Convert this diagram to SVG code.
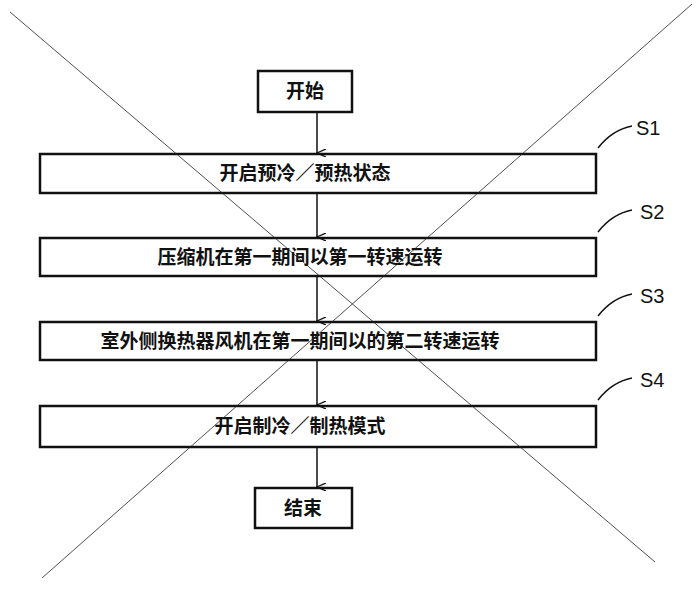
<svg xmlns="http://www.w3.org/2000/svg" width="700" height="600" viewBox="0 0 700 600">
<style>
.box{fill:#fff;stroke:#111;stroke-width:2.5}
.t{font-family:"Noto Sans CJK SC",sans-serif;font-size:19px;font-weight:bold;fill:#111;text-anchor:middle}
.s{font-family:"Liberation Sans",sans-serif;font-size:20px;fill:#111}
.c{stroke:#111;stroke-width:1.5;fill:none}
</style>
<defs><marker id="a" markerWidth="8" markerHeight="10" refX="4" refY="9" orient="auto" markerUnits="userSpaceOnUse"><path d="M0,0 L4,9 L8,0" fill="none" stroke="#111" stroke-width="1.3"/></marker></defs>
<rect width="700" height="600" fill="#fff"/>
<g id="start"><rect class="box" x="258" y="71" width="94" height="41"/><text class="t" x="305" y="98">开始</text></g>
<g id="s1"><rect class="box" x="40" y="154" width="556" height="39"/><text class="t" x="305" y="180">开启预冷／预热状态</text><path class="c" d="M598,148 Q612,130 632,126"/><text class="s" x="636" y="135">S1</text></g>
<g id="s2"><rect class="box" x="40" y="238" width="556" height="38"/><text class="t" x="300" y="264">压缩机在第一期间以第一转速运转</text><path class="c" d="M598,232 Q612,214 632,210"/><text class="s" x="640" y="219">S2</text></g>
<g id="s3"><rect class="box" x="40" y="322" width="556" height="38"/><text class="t" x="300" y="348">室外侧换热器风机在第一期间以的第二转速运转</text><path class="c" d="M598,316 Q612,298 632,294"/><text class="s" x="640" y="303">S3</text></g>
<g id="s4"><rect class="box" x="40" y="406" width="556" height="41"/><text class="t" x="300" y="433">开启制冷／制热模式</text><path class="c" d="M598,400 Q612,382 632,378"/><text class="s" x="640" y="387">S4</text></g>
<g id="end"><rect class="box" x="255" y="488" width="97" height="40"/><text class="t" x="303" y="515">结束</text></g>
<g id="connectors">
<line class="c" x1="317" y1="112" x2="317" y2="153" marker-end="url(#a)"/>
<line class="c" x1="317" y1="193" x2="317" y2="237" marker-end="url(#a)"/>
<line class="c" x1="317" y1="276" x2="317" y2="321" marker-end="url(#a)"/>
<line class="c" x1="317" y1="360" x2="317" y2="405" marker-end="url(#a)"/>
<line class="c" x1="317" y1="447" x2="317" y2="487" marker-end="url(#a)"/>
</g>
<line x1="10" y1="12" x2="655" y2="562" stroke="#222" stroke-width="0.8"/>
<line x1="692" y1="4" x2="42" y2="578" stroke="#222" stroke-width="0.8"/>
</svg>
